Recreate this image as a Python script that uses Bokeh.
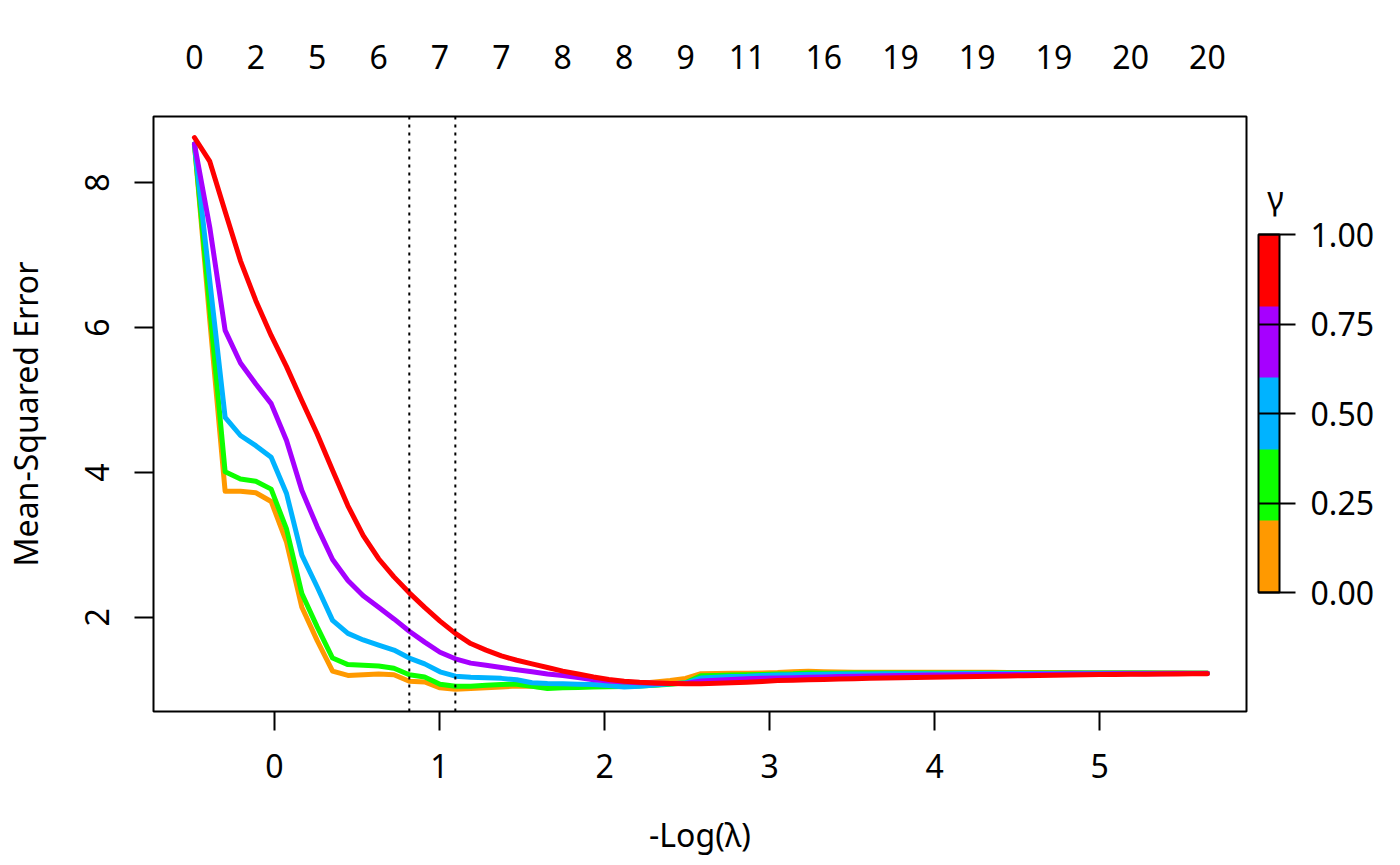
import math
from bokeh.plotting import figure
from bokeh.models import (Range1d, LinearAxis, FixedTicker, Span, ColorBar,
                          LinearColorMapper, PrintfTickFormatter, Label)
from bokeh.embed import file_html
from bokeh.resources import INLINE

FONT = "Noto Sans"

# -log(lambda) for each lambda on the path
neg_log_lambda = [
    -0.485, -0.392, -0.299, -0.206, -0.113, -0.020, 0.073, 0.166, 0.259, 0.352,
    0.445, 0.538, 0.631, 0.724, 0.817, 0.910, 1.003, 1.096, 1.189, 1.282,
    1.375, 1.468, 1.561, 1.654, 1.747, 1.840, 1.933, 2.026, 2.119, 2.212,
    2.305, 2.398, 2.491, 2.584, 2.677, 2.770, 2.863, 2.956, 3.049, 3.142,
    3.235, 3.328, 3.421, 3.514, 3.607, 3.700, 3.793, 3.886, 3.979, 4.072,
    4.165, 4.258, 4.351, 4.444, 4.537, 4.630, 4.723, 4.816, 4.909, 5.002,
    5.095, 5.188, 5.281, 5.374, 5.467, 5.560, 5.653,
]

gamma_values = [0.0, 0.25, 0.5, 0.75, 1.0]
gamma_colors = ["#FF9900", "#0DFF00", "#00B3FF", "#A600FF", "#FF0000"]

mse_gamma_000 = [
    8.53, 6.10, 3.74, 3.74, 3.72, 3.60, 3.04, 2.14, 1.68, 1.26,
    1.20, 1.21, 1.22, 1.21, 1.12, 1.11, 1.03, 1.01, 1.02, 1.03,
    1.04, 1.055, 1.05, 1.035, 1.045, 1.05, 1.055, 1.065, 1.075, 1.09,
    1.11, 1.13, 1.16, 1.225, 1.228, 1.23, 1.232, 1.235, 1.24, 1.25,
    1.258, 1.252, 1.248, 1.246, 1.245, 1.245, 1.245, 1.245, 1.245, 1.245,
    1.245, 1.244, 1.243, 1.242, 1.241, 1.241, 1.24, 1.24, 1.239, 1.238,
    1.238, 1.237, 1.237, 1.236, 1.236, 1.235, 1.235,
]
mse_gamma_025 = [
    8.53, 6.27, 4.01, 3.91, 3.88, 3.77, 3.22, 2.33, 1.87, 1.44,
    1.35, 1.34, 1.33, 1.30, 1.21, 1.18, 1.08, 1.05, 1.05, 1.065,
    1.075, 1.08, 1.05, 1.02, 1.03, 1.035, 1.04, 1.045, 1.048, 1.055,
    1.065, 1.08, 1.10, 1.195, 1.20, 1.205, 1.21, 1.215, 1.22, 1.225,
    1.235, 1.232, 1.232, 1.233, 1.233, 1.234, 1.234, 1.235, 1.235, 1.235,
    1.235, 1.235, 1.235, 1.235, 1.235, 1.234, 1.234, 1.234, 1.234, 1.233,
    1.233, 1.233, 1.233, 1.232, 1.232, 1.232, 1.232,
]
mse_gamma_050 = [
    8.53, 6.64, 4.76, 4.51, 4.37, 4.21, 3.71, 2.86, 2.42, 1.96,
    1.78, 1.69, 1.62, 1.55, 1.44, 1.36, 1.25, 1.19, 1.175, 1.17,
    1.16, 1.14, 1.10, 1.09, 1.085, 1.08, 1.075, 1.06, 1.04, 1.05,
    1.07, 1.085, 1.095, 1.165, 1.175, 1.185, 1.19, 1.20, 1.205, 1.21,
    1.215, 1.217, 1.219, 1.22, 1.221, 1.222, 1.223, 1.224, 1.225, 1.225,
    1.226, 1.226, 1.227, 1.227, 1.228, 1.228, 1.228, 1.229, 1.229, 1.229,
    1.23, 1.23, 1.23, 1.23, 1.23, 1.23, 1.23,
]
mse_gamma_075 = [
    8.53, 7.38, 5.96, 5.51, 5.22, 4.95, 4.44, 3.75, 3.25, 2.80,
    2.51, 2.30, 2.14, 1.98, 1.81, 1.66, 1.52, 1.43, 1.37, 1.34,
    1.31, 1.28, 1.25, 1.22, 1.20, 1.17, 1.14, 1.125, 1.11, 1.10,
    1.094, 1.09, 1.09, 1.125, 1.135, 1.145, 1.155, 1.16, 1.165, 1.17,
    1.175, 1.18, 1.185, 1.19, 1.193, 1.196, 1.199, 1.202, 1.205, 1.207,
    1.209, 1.21, 1.212, 1.214, 1.215, 1.217, 1.218, 1.219, 1.22, 1.221,
    1.222, 1.223, 1.224, 1.225, 1.226, 1.226, 1.227,
]
mse_gamma_100 = [
    8.62, 8.29, 7.60, 6.92, 6.37, 5.89, 5.46, 4.99, 4.53, 4.03,
    3.54, 3.13, 2.81, 2.56, 2.34, 2.14, 1.95, 1.78, 1.64, 1.55,
    1.47, 1.41, 1.36, 1.31, 1.26, 1.22, 1.18, 1.145, 1.12, 1.105,
    1.095, 1.088, 1.085, 1.087, 1.092, 1.10, 1.108, 1.118, 1.13, 1.135,
    1.14, 1.145, 1.15, 1.155, 1.16, 1.165, 1.17, 1.172, 1.175, 1.179,
    1.183, 1.186, 1.19, 1.193, 1.197, 1.20, 1.203, 1.206, 1.209, 1.212,
    1.214, 1.216, 1.218, 1.22, 1.221, 1.222, 1.223,
]
mse_curves = [mse_gamma_000, mse_gamma_025, mse_gamma_050, mse_gamma_075, mse_gamma_100]

# number of nonzero coefficients, shown on the top axis at these lambda indices
top_label_index = [0, 4, 8, 12, 16, 20, 24, 28, 32, 36, 41, 46, 51, 56, 61, 66]
top_label_nzero = [0, 2, 5, 6, 7, 7, 8, 8, 9, 11, 16, 19, 19, 19, 20, 20]

# lambda.1se and lambda.min (as -log(lambda))
selected_lambda_index = [14, 17]

x_ticks = [0, 1, 2, 3, 4, 5]
y_ticks = [2, 4, 6, 8]
gamma_ticks = [0.0, 0.25, 0.5, 0.75, 1.0]

# ---------------------------------------------------------------
X0, X1 = -0.733, 5.89
Y0, Y1 = 0.703, 8.91
FRAME_L, FRAME_T, FRAME_W, FRAME_H = 153, 116, 1093, 595
W, H = 1398, 863

p = figure(width=W, height=H,
           x_range=Range1d(X0, X1), y_range=Range1d(Y0, Y1),
           output_backend="svg", toolbar_location=None,
           min_border_left=FRAME_L, min_border_right=W - FRAME_L - FRAME_W,
           min_border_top=FRAME_T, min_border_bottom=H - FRAME_T - FRAME_H)
p.grid.visible = False
p.background_fill_color = "white"
p.border_fill_color = "white"
p.outline_line_color = "black"
p.outline_line_width = 2
p.outline_line_alpha = 1.0

for ys, col in zip(mse_curves, gamma_colors):
    p.line(neg_log_lambda, ys, line_color=col, line_width=5,
           line_join="round", line_cap="round")

for idx in selected_lambda_index:
    p.add_layout(Span(location=neg_log_lambda[idx], dimension="height",
                      line_color="black", line_width=2, line_dash="3 5"))


def style_axis(ax):
    ax.axis_line_color = None
    ax.minor_tick_line_color = None
    ax.major_tick_line_color = "black"
    ax.major_tick_line_width = 2
    ax.major_tick_in = 0
    ax.major_tick_out = 19
    ax.major_label_text_font = FONT
    ax.major_label_text_font_size = "32px"
    ax.major_label_text_color = "black"
    ax.axis_label_text_font = FONT
    ax.axis_label_text_font_size = "32px"
    ax.axis_label_text_font_style = "normal"
    ax.axis_label_text_color = "black"


xa = p.xaxis[0]
style_axis(xa)
xa.ticker = FixedTicker(ticks=x_ticks)
xa.major_label_standoff = 23
xa.axis_label = "-Log(λ)"
xa.axis_label_standoff = 32

ya = p.yaxis[0]
style_axis(ya)
ya.ticker = FixedTicker(ticks=y_ticks)
ya.major_label_orientation = "vertical"
ya.major_label_standoff = 25
ya.axis_label = "Mean-Squared Error"
ya.axis_label_standoff = 36

top_pos = [neg_log_lambda[i] for i in top_label_index]
ta = LinearAxis(ticker=FixedTicker(ticks=top_pos),
                major_label_overrides={pos: str(n) for pos, n in zip(top_pos, top_label_nzero)})
style_axis(ta)
ta.major_tick_line_color = None
ta.major_tick_out = 0
ta.major_label_standoff = 48
p.add_layout(ta, "above")

# legend title (gamma), drawn in the right-hand panel next to the frame
p.add_layout(Label(x=29, y=FRAME_H - 81, x_units="screen", y_units="screen",
                   text="γ", text_align="center", text_baseline="middle",
                   text_font=FONT, text_font_size="32px", text_color="black"),
             "right")

mapper = LinearColorMapper(palette=gamma_colors, low=gamma_values[0], high=gamma_values[-1])
cb = ColorBar(color_mapper=mapper, ticker=FixedTicker(ticks=gamma_ticks),
              formatter=PrintfTickFormatter(format="%.2f"),
              width=21, height=358, location=(-5, 119), padding=0, margin=0,
              major_tick_out=16, major_tick_in=21, major_tick_line_color="black",
              major_tick_line_width=2, minor_tick_line_color=None,
              bar_line_color="black", bar_line_width=2, label_standoff=15,
              major_label_text_font=FONT, major_label_text_font_size="32px",
              major_label_text_color="black",
              background_fill_color=None, border_line_color=None)
p.add_layout(cb, "right")

open("out.html", "w").write(file_html(p, INLINE))
